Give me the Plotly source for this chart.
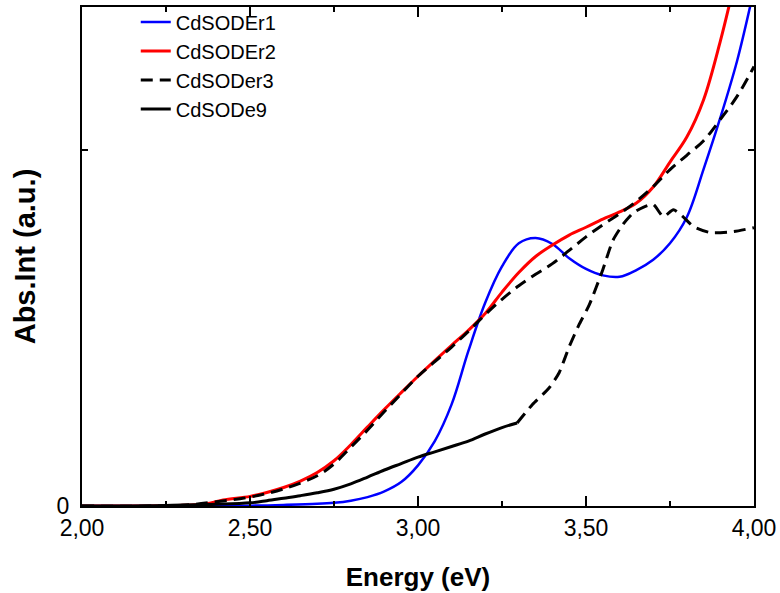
import plotly.graph_objects as go

# ---------------- data ----------------
e_er1 = [2.00, 2.30, 2.50, 2.60, 2.70, 2.75, 2.80, 2.85, 2.90, 2.95, 3.00, 3.05, 3.10, 3.15, 3.20,
         3.25, 3.30, 3.35, 3.40, 3.45, 3.50, 3.55, 3.60, 3.65, 3.70, 3.75, 3.80, 3.85, 3.90, 3.95, 4.00]
v_er1 = [0.0, 0.0, 0.001, 0.003, 0.006, 0.009, 0.015, 0.025, 0.041, 0.067, 0.114, 0.182, 0.285, 0.435, 0.570,
         0.672, 0.737, 0.752, 0.735, 0.695, 0.665, 0.647, 0.643, 0.662, 0.691, 0.737, 0.810, 0.945, 1.090, 1.250, 1.450]

e_er2 = [2.00, 2.30, 2.38, 2.42, 2.50, 2.55, 2.60, 2.65, 2.70, 2.75, 2.80, 2.85, 2.90, 2.95, 3.00, 3.05, 3.10,
         3.15, 3.20, 3.25, 3.30, 3.35, 3.40, 3.45, 3.50, 3.55, 3.60, 3.65, 3.70, 3.75, 3.80, 3.85, 3.90, 3.93]
v_er2 = [0.0, 0.002, 0.008, 0.017, 0.027, 0.038, 0.052, 0.070, 0.094, 0.127, 0.172, 0.222, 0.271, 0.318, 0.364,
         0.408, 0.451, 0.493, 0.540, 0.600, 0.655, 0.700, 0.732, 0.760, 0.782, 0.805, 0.825, 0.850, 0.895, 0.965,
         1.035, 1.140, 1.305, 1.420]

e_er3 = [2.00, 2.30, 2.40, 2.50, 2.60, 2.70, 2.75, 2.80, 2.85, 2.90, 2.95, 3.00, 3.05, 3.10, 3.15, 3.20, 3.25,
         3.30, 3.35, 3.40, 3.45, 3.50, 3.55, 3.60, 3.65, 3.70, 3.75, 3.80, 3.85, 3.90, 3.95, 4.00]
v_er3 = [0.0, 0.002, 0.012, 0.025, 0.048, 0.085, 0.118, 0.165, 0.213, 0.265, 0.315, 0.364, 0.405, 0.446, 0.490,
         0.537, 0.580, 0.618, 0.650, 0.680, 0.717, 0.755, 0.789, 0.820, 0.855, 0.896, 0.944, 0.984, 1.025, 1.085,
         1.150, 1.233]

# CdSODe9: low-energy part (drawn solid) and high-energy part (drawn dashed)
e_de9_low = [2.00, 2.20, 2.30, 2.40, 2.50, 2.55, 2.60, 2.65, 2.70, 2.75, 2.80, 2.85, 2.90, 2.95, 3.00, 3.05,
             3.10, 3.15, 3.20, 3.25, 3.295]
v_de9_low = [0.0, 0.001, 0.003, 0.005, 0.009, 0.015, 0.022, 0.029, 0.037, 0.047, 0.062, 0.081, 0.101, 0.119,
             0.137, 0.152, 0.167, 0.182, 0.202, 0.220, 0.233]
e_de9_high = [3.295, 3.34, 3.39, 3.42, 3.45, 3.48, 3.51, 3.55, 3.58, 3.61, 3.64, 3.67, 3.70, 3.73, 3.76,
              3.785, 3.82, 3.87, 3.94, 4.00]
v_de9_high = [0.233, 0.284, 0.331, 0.374, 0.447, 0.510, 0.565, 0.663, 0.745, 0.790, 0.822, 0.838, 0.846, 0.812,
              0.831, 0.815, 0.784, 0.767, 0.770, 0.781]

names = ["CdSODEr1", "CdSODEr2", "CdSODer3", "CdSODe9"]
x_tickvals = [2.0, 2.5, 3.0, 3.5, 4.0]
x_ticktext = ["2,00", "2,50", "3,00", "3,50", "4,00"]
x_minorvals = [2.25, 2.75, 3.25, 3.75]
y_tickvals = [0, 1]
y_ticktext = ["0", ""]

# ---------------- figure ----------------
fig = go.Figure()
fig.add_trace(go.Scatter(x=e_er1, y=v_er1, mode="lines", name=names[0],
                         line=dict(color="#0000ff", width=2.5, shape="spline", smoothing=1.0)))
fig.add_trace(go.Scatter(x=e_er2, y=v_er2, mode="lines", name=names[1],
                         line=dict(color="#ff0000", width=3, shape="spline", smoothing=1.0)))
fig.add_trace(go.Scatter(x=e_er3, y=v_er3, mode="lines", name=names[2],
                         line=dict(color="black", width=3, dash="12px,7px", shape="spline", smoothing=1.0)))
fig.add_trace(go.Scatter(x=e_de9_low, y=v_de9_low, mode="lines", name=names[3],
                         line=dict(color="black", width=3, shape="spline", smoothing=1.0)))
fig.add_trace(go.Scatter(x=e_de9_high, y=v_de9_high, mode="lines", name=names[3], showlegend=False,
                         line=dict(color="black", width=3, dash="12px,7px", shape="spline", smoothing=0.6)))

tickfont = dict(family="Liberation Sans Narrow, Liberation Sans, Arial", size=23, color="black")

fig.update_layout(
    width=780, height=593,
    margin=dict(l=82, r=26, t=7, b=87, autoexpand=False),
    paper_bgcolor="white", plot_bgcolor="white",
    font=dict(family="Liberation Sans, Arial", color="black"),
    legend=dict(x=0.08, y=1.009, xanchor="left", yanchor="top",
                font=dict(family="Liberation Sans, Arial", size=20, color="black"),
                bgcolor="rgba(0,0,0,0)", tracegroupgap=0),
    xaxis=dict(range=[2, 4], tickvals=x_tickvals, ticktext=x_ticktext,
               ticks="inside", ticklen=10, tickwidth=2, tickcolor="black",
               showline=True, linewidth=2, linecolor="black", mirror="allticks",
               showgrid=False, zeroline=False, tickfont=tickfont,
               minor=dict(tickvals=x_minorvals, ticks="inside", ticklen=5, tickwidth=2, tickcolor="black"),
               title=dict(text="<b>Energy (eV)</b>", standoff=28,
                          font=dict(family="Liberation Sans, Arial", size=26, color="black"))),
    yaxis=dict(range=[0, 1.4], tickvals=y_tickvals, ticktext=y_ticktext,
               ticks="inside", ticklen=6, tickwidth=2, tickcolor="black", ticklabelstandoff=6,
               showline=True, linewidth=2, linecolor="black", mirror="allticks",
               showgrid=False, zeroline=False, tickfont=tickfont,
               title=dict(text="<b>Abs.Int (a.u.)</b>", standoff=12,
                          font=dict(family="Liberation Sans, Arial", size=29, color="black"))),
)

fig.write_html("out.html")
